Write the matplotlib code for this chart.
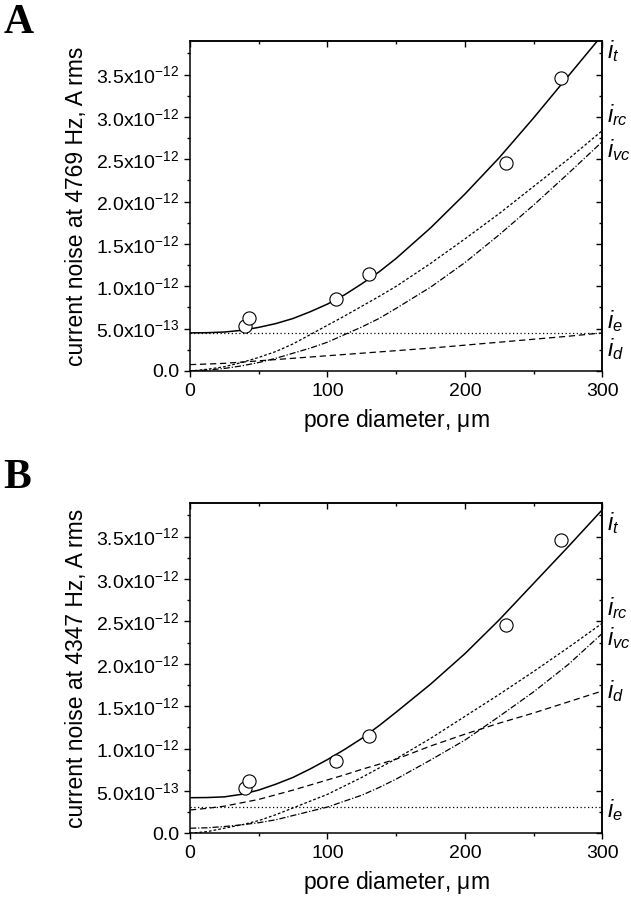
import matplotlib.pyplot as plt
import numpy as np

plt.rcParams['font.family'] = 'Liberation Sans'
plt.rcParams['mathtext.fontset'] = 'custom'
plt.rcParams['mathtext.rm'] = 'Liberation Sans'
plt.rcParams['mathtext.it'] = 'Liberation Sans:italic'

# measured pores (um) and noise (units of 1e-12 A rms), same in both panels
pores = [40, 43, 106, 130, 230, 270]
noise_meas = [0.53, 0.62, 0.85, 1.15, 2.455, 3.46]

# model curves
diam = [0, 12.5, 25, 37.5, 50, 62.5, 75, 87.5, 100, 112.5, 125, 137.5, 150,
        175, 200, 225, 250, 275, 300]

# panel A, 4769 Hz
a_t = [0.45, 0.452, 0.46, 0.48, 0.515, 0.56, 0.62, 0.70, 0.79, 0.90, 1.03, 1.17, 1.33,
       1.69, 2.09, 2.52, 2.99, 3.48, 3.97]
a_rc = [0.0, 0.02, 0.05, 0.10, 0.16, 0.23, 0.32, 0.43, 0.54, 0.65, 0.765, 0.88, 1.0,
        1.27, 1.56, 1.86, 2.18, 2.50, 2.84]
a_vc = [0.0, 0.01, 0.03, 0.06, 0.10, 0.15, 0.21, 0.27, 0.34, 0.43, 0.52, 0.62, 0.74,
        0.99, 1.28, 1.61, 1.96, 2.33, 2.71]
a_d = [0.075, 0.082, 0.09, 0.105, 0.12, 0.135, 0.15, 0.165, 0.18, 0.195, 0.21, 0.225, 0.24,
       0.27, 0.305, 0.34, 0.375, 0.41, 0.45]
a_e = [0.451] * len(diam)

# panel B, 4347 Hz
b_t = [0.42, 0.422, 0.43, 0.46, 0.51, 0.58, 0.66, 0.76, 0.87, 0.99, 1.12, 1.27, 1.43,
       1.76, 2.12, 2.52, 2.95, 3.38, 3.82]
b_rc = [0.0, 0.02, 0.06, 0.10, 0.15, 0.22, 0.30, 0.38, 0.46, 0.56, 0.66, 0.77, 0.88,
        1.12, 1.38, 1.64, 1.91, 2.19, 2.48]
b_vc = [0.06, 0.065, 0.08, 0.10, 0.125, 0.16, 0.21, 0.26, 0.31, 0.38, 0.45, 0.54, 0.64,
        0.865, 1.10, 1.38, 1.67, 1.99, 2.36]
b_d = [0.275, 0.295, 0.32, 0.36, 0.40, 0.455, 0.51, 0.57, 0.63, 0.69, 0.755, 0.815, 0.875,
       1.03, 1.17, 1.30, 1.42, 1.55, 1.68]
b_e = [0.307] * len(diam)

yticks = [0, 0.5, 1.0, 1.5, 2.0, 2.5, 3.0, 3.5]
ytick_labels = ['0.0', r'5.0x10$^{\mathregular{-13}}$', r'1.0x10$^{\mathregular{-12}}$',
                r'1.5x10$^{\mathregular{-12}}$', r'2.0x10$^{\mathregular{-12}}$',
                r'2.5x10$^{\mathregular{-12}}$', r'3.0x10$^{\mathregular{-12}}$',
                r'3.5x10$^{\mathregular{-12}}$']

styles = {
    't': dict(ls='-', lw=1.1),
    'rc': dict(ls=(0, (2.2, 1.6)), lw=0.9),
    'vc': dict(ls=(0, (5, 1.5, 1, 1.5)), lw=0.9),
    'd': dict(ls=(0, (5, 3)), lw=0.9),
    'e': dict(ls=(0, (1, 2)), lw=0.9),
}


def panel(ax, curves, label_pos, freq):
    for key, vals in curves.items():
        ax.plot(diam, vals, color='black', **styles[key])
    ax.plot(pores, noise_meas, 'o', ms=9.5, mfc='white', mec='black', mew=0.8, zorder=5)

    ax.set_xlim(0, 300)
    ax.set_ylim(0, 3.9)
    ax.set_xticks([0, 100, 200, 300])
    ax.set_xticks([50, 150, 250], minor=True)
    ax.set_yticks(yticks)
    ax.set_yticklabels(ytick_labels)
    ax.set_yticks(np.arange(0.25, 3.9, 0.5), minor=True)
    ax.tick_params(which='major', direction='out', length=4.5, width=1, labelsize=14, pad=3)
    ax.tick_params(axis='x', which='major', pad=4)
    ax.tick_params(which='minor', direction='out', length=2.5, width=1)
    for s in ax.spines.values():
        s.set_linewidth(1.1)

    top = ax.secondary_xaxis('top')
    top.set_xticks([0, 100, 200, 300])
    top.set_xticks([50, 150, 250], minor=True)
    top.tick_params(which='major', direction='in', length=4.5, width=1, labeltop=False)
    top.tick_params(which='minor', direction='in', length=2.5, width=1)
    right = ax.secondary_yaxis('right')
    right.set_yticks(yticks)
    right.set_yticks(np.arange(0.25, 3.9, 0.5), minor=True)
    right.tick_params(which='major', direction='in', length=4.5, width=1, labelright=False)
    right.tick_params(which='minor', direction='in', length=2.5, width=1)
    for sa in (top, right):
        for s in sa.spines.values():
            s.set_linewidth(1.1)

    ax.set_xlabel(r'pore diameter, $\mathregular{\mu}$m', fontsize=16.5, labelpad=5)
    ax.set_ylabel(f'current noise at {freq} Hz, A rms', fontsize=16.5, labelpad=6)

    for key, y in label_pos.items():
        ax.annotate(r'$i_{%s}$' % key, xy=(1, y), xycoords=('axes fraction', 'data'),
                    xytext=(3, 0), textcoords='offset points', va='baseline',
                    fontsize=17, annotation_clip=False)


fig = plt.figure(figsize=(6.31, 9.0), dpi=100)
ax_a = fig.add_axes([0.3011, 0.5878, 0.6537, 0.367])
ax_b = fig.add_axes([0.3011, 0.0741, 0.6537, 0.3673])

panel(ax_a, {'e': a_e, 'd': a_d, 'vc': a_vc, 'rc': a_rc, 't': a_t},
      {'t': 3.70, 'rc': 2.94, 'vc': 2.52, 'e': 0.506, 'd': 0.17}, 4769)
panel(ax_b, {'e': b_e, 'd': b_d, 'vc': b_vc, 'rc': b_rc, 't': b_t},
      {'t': 3.58, 'rc': 2.58, 'vc': 2.22, 'd': 1.60, 'e': 0.196}, 4347)

fig.text(0.005, 0.963, 'A', family='Liberation Serif', weight='bold', fontsize=30)
fig.text(0.005, 0.458, 'B', family='Liberation Serif', weight='bold', fontsize=30)

fig.savefig('out.png', dpi=100)
